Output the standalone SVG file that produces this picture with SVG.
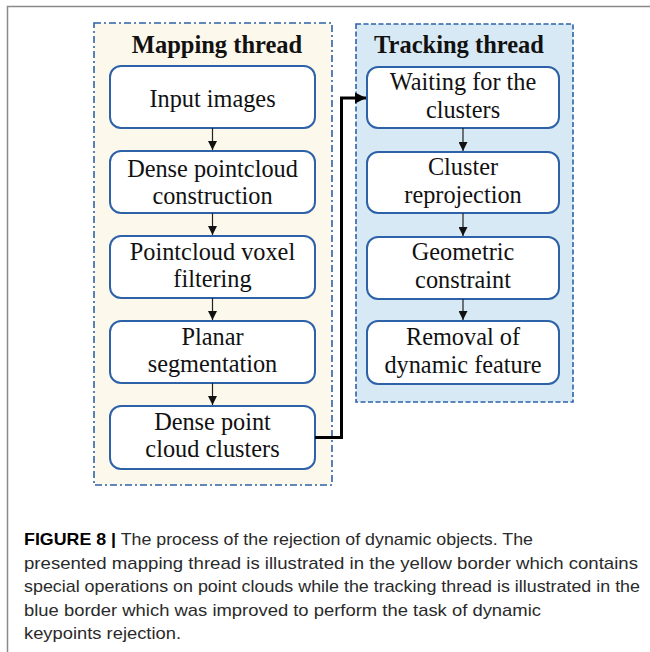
<svg xmlns="http://www.w3.org/2000/svg" width="650" height="652" viewBox="0 0 650 652">
  <style>
    .frame { fill: none; stroke: #8a8a8a; stroke-width: 1.5; }
    .map-box { fill: #fdf8ec; stroke: #2e62a8; stroke-width: 1.6; stroke-dasharray: 7 3 2 3; }
    .trk-box { fill: #d8e9f6; stroke: #2e62a8; stroke-width: 1.6; stroke-dasharray: 5 2.5; }
    .node rect { fill: #ffffff; stroke: #2e62a8; stroke-width: 2; }
    .title { font-family: "Liberation Serif", "Times New Roman", serif; font-weight: bold; font-size: 24.5px; fill: #111; text-anchor: middle; }
    .label { font-family: "Liberation Serif", "Times New Roman", serif; font-size: 24.3px; fill: #111; text-anchor: middle; }
    .step { stroke: #222; stroke-width: 1.2; fill: none; }
    .link { stroke: #000; stroke-width: 3; fill: none; }
    .cap { font-family: "Liberation Sans", Arial, sans-serif; font-size: 17px; fill: #2a2a2a; }
    .cap-b { font-weight: bold; fill: #000; }
  </style>
  <defs>
    <marker id="tip" viewBox="0 0 10 10" refX="10" refY="5" markerWidth="9" markerHeight="9" markerUnits="userSpaceOnUse" orient="auto">
      <path d="M0,0 L10,5 L0,10 z" fill="#111"/>
    </marker>
    <marker id="tip-big" viewBox="0 0 10 10" refX="10" refY="5" markerWidth="11" markerHeight="11" markerUnits="userSpaceOnUse" orient="auto">
      <path d="M0,0 L10,5 L0,10 z" fill="#000"/>
    </marker>
  </defs>

  <rect width="650" height="652" fill="#ffffff"/>
  <!-- page frame (left and top rule) -->
  <path class="frame" d="M650,6.5 H7.5 V652"/>

  <!-- thread containers -->
  <g id="mapping-thread">
    <rect class="map-box" x="94" y="23" width="238" height="462"/>
    <text class="title" x="217" y="53">Mapping thread</text>
  </g>
  <g id="tracking-thread">
    <rect class="trk-box" x="356" y="24" width="217" height="378"/>
    <text class="title" x="459" y="53">Tracking thread</text>
  </g>

  <!-- mapping steps -->
  <g id="input-images" class="node">
    <rect x="110" y="66" width="205" height="62" rx="11"/>
    <text class="label" x="212.5" y="106.5">Input images</text>
  </g>
  <g id="dense-pointcloud" class="node">
    <rect x="110" y="151" width="205" height="62" rx="11"/>
    <text class="label" x="212.5" y="177">Dense pointcloud</text>
    <text class="label" x="212.5" y="204">construction</text>
  </g>
  <g id="voxel-filtering" class="node">
    <rect x="110" y="236" width="205" height="62" rx="11"/>
    <text class="label" x="212.5" y="260">Pointcloud voxel</text>
    <text class="label" x="212.5" y="287">filtering</text>
  </g>
  <g id="planar-segmentation" class="node">
    <rect x="110" y="321" width="205" height="62" rx="11"/>
    <text class="label" x="212.5" y="345">Planar</text>
    <text class="label" x="212.5" y="372">segmentation</text>
  </g>
  <g id="point-cloud-clusters" class="node">
    <rect x="110" y="406" width="205" height="63" rx="11"/>
    <text class="label" x="212.5" y="430">Dense point</text>
    <text class="label" x="212.5" y="457">cloud clusters</text>
  </g>

  <!-- tracking steps -->
  <g id="waiting-clusters" class="node">
    <rect x="367" y="67" width="192" height="61" rx="11"/>
    <text class="label" x="463" y="90">Waiting for the</text>
    <text class="label" x="463" y="118">clusters</text>
  </g>
  <g id="cluster-reprojection" class="node">
    <rect x="367" y="152" width="192" height="61" rx="11"/>
    <text class="label" x="463" y="175">Cluster</text>
    <text class="label" x="463" y="203">reprojection</text>
  </g>
  <g id="geometric-constraint" class="node">
    <rect x="367" y="237" width="192" height="62" rx="11"/>
    <text class="label" x="463" y="260">Geometric</text>
    <text class="label" x="463" y="288">constraint</text>
  </g>
  <g id="dynamic-removal" class="node">
    <rect x="367" y="321" width="192" height="63" rx="11"/>
    <text class="label" x="463" y="345">Removal of</text>
    <text class="label" x="463" y="373">dynamic feature</text>
  </g>

  <!-- connectors -->
  <g id="connectors">
    <line class="step" x1="212.5" y1="128" x2="212.5" y2="150" marker-end="url(#tip)"/>
    <line class="step" x1="212.5" y1="213" x2="212.5" y2="235" marker-end="url(#tip)"/>
    <line class="step" x1="212.5" y1="298" x2="212.5" y2="320" marker-end="url(#tip)"/>
    <line class="step" x1="212.5" y1="383" x2="212.5" y2="405" marker-end="url(#tip)"/>
    <line class="step" x1="463" y1="128" x2="463" y2="151" marker-end="url(#tip)"/>
    <line class="step" x1="463" y1="213" x2="463" y2="236" marker-end="url(#tip)"/>
    <line class="step" x1="463" y1="299" x2="463" y2="320" marker-end="url(#tip)"/>
    <path class="link" d="M315,437.5 H341.5 V98 H366" marker-end="url(#tip-big)"/>
  </g>

  <!-- caption -->
  <g id="caption">
    <text class="cap" x="24" y="545" textLength="509" lengthAdjust="spacingAndGlyphs"><tspan class="cap-b">FIGURE 8 |</tspan> The process of the rejection of dynamic objects. The</text>
    <text class="cap" x="24" y="568.5" textLength="614" lengthAdjust="spacingAndGlyphs">presented mapping thread is illustrated in the yellow border which contains</text>
    <text class="cap" x="24" y="592" textLength="616" lengthAdjust="spacingAndGlyphs">special operations on point clouds while the tracking thread is illustrated in the</text>
    <text class="cap" x="24" y="615.5" textLength="517" lengthAdjust="spacingAndGlyphs">blue border which was improved to perform the task of dynamic</text>
    <text class="cap" x="24" y="639" textLength="157" lengthAdjust="spacingAndGlyphs">keypoints rejection.</text>
  </g>
</svg>
